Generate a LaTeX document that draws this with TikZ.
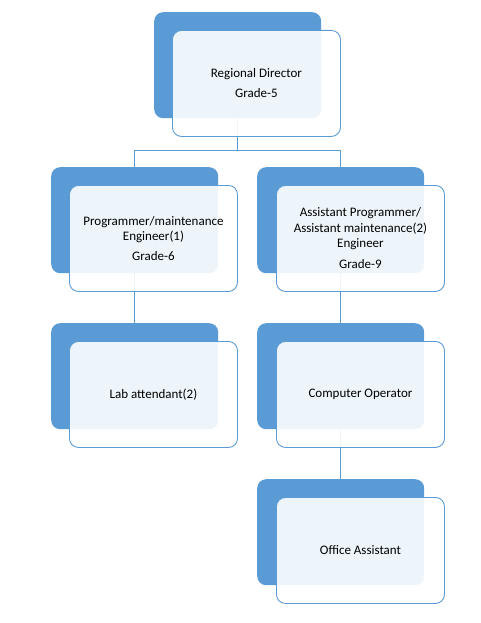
\documentclass[tikz,border=0pt]{standalone}
\usepackage{fontspec}
\setmainfont{Carlito}
\usetikzlibrary{calc}
\definecolor{accent}{HTML}{5B9BD5}
\tikzset{
  bluebox/.style={rectangle, rounded corners=9pt, fill=accent, draw=none,
    minimum width=167pt, minimum height=106pt, anchor=north west, inner sep=0pt},
  whitebox/.style={rectangle, rounded corners=9pt, fill=white, fill opacity=0.9, text opacity=1,
    draw=accent, draw opacity=1, line width=0.9pt, minimum width=168pt, minimum height=106pt,
    anchor=north west, inner sep=2pt, align=center, font=\fontsize{13}{15.5}\selectfont},
  conn/.style={draw=accent, line width=0.9pt}
}
\begin{document}
\begin{tikzpicture}[x=1pt,y=-1pt]
\useasboundingbox (0,0) rectangle (481,623);
% back (blue) boxes
\node[bluebox] (rdB) at (154,12) {};
\node[bluebox] (pmB) at (51,167) {};
\node[bluebox] (apB) at (257,167) {};
\node[bluebox] (laB) at (51,323) {};
\node[bluebox] (coB) at (257,323) {};
\node[bluebox] (oaB) at (257,479) {};
% connectors
\coordinate (j1) at ($(rdB.south)+(0,32)$);
\draw[conn] (rdB.south) -- (j1);
\draw[conn] (pmB.north) |- (j1) -| (apB.north);
\draw[conn] (pmB.south) -- (laB.north);
\draw[conn] (apB.south) -- (coB.north);
\draw[conn] (coB.south) -- (oaB.north);
% front boxes
\node[whitebox] (rd) at (172,30) {Regional Director\\[4.5pt]Grade-5};
\node[whitebox] (pm) at (69,185) {Programmer/maintenance\\Engineer(1)\\[4.5pt]Grade-6};
\node[whitebox] (ap) at (276,185) {Assistant Programmer/\\Assistant maintenance(2)\\Engineer\\[5.5pt]Grade-9};
\node[whitebox] (la) at (69,341) {Lab attendant(2)};
\node[whitebox] (co) at (276,341) {Computer Operator};
\node[whitebox] (oa) at (276,497) {Office Assistant};
\end{tikzpicture}
\end{document}
